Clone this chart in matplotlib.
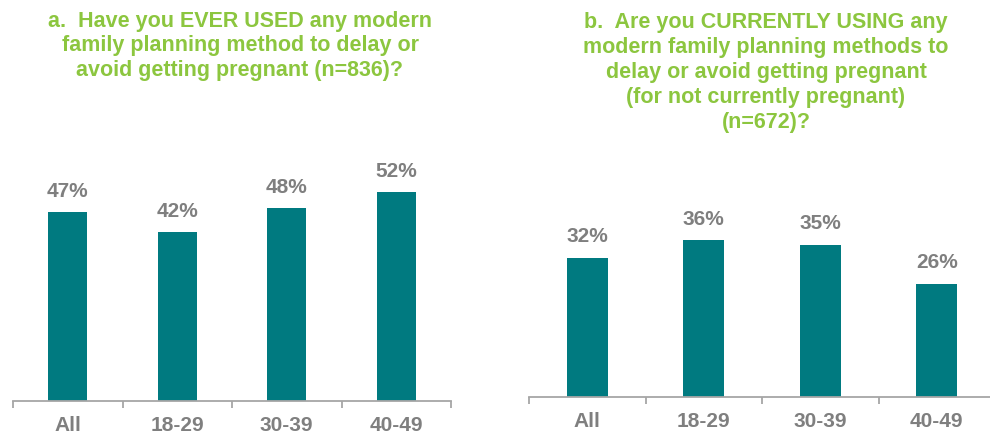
import matplotlib
matplotlib.use("Agg")
from matplotlib import pyplot as plt

plt.rcParams['font.family'] = ['Liberation Sans', 'DejaVu Sans']

categories = ["All", "18-29", "30-39", "40-49"]
ever_used = [47, 42, 48, 52]
currently_using = [32, 36, 35, 26]

title_a = "a.  Have you EVER USED any modern\nfamily planning method to delay or\navoid getting pregnant (n=836)?"
title_b = ("b.  Are you CURRENTLY USING any\nmodern family planning methods to\n"
           "delay or avoid getting pregnant\n(for not currently pregnant)\n(n=672)?")

BAR = "#007A80"
LABEL = "#7F7F7F"
GREEN = "#8CC63F"
AXIS = "#A6A6A6"


def plot_panel(ax, values, width, ymax):
    x = range(len(values))
    bars = ax.bar(x, values, width=width, color=BAR)
    for b, v in zip(bars, values):
        ax.annotate("{}%".format(v), (b.get_x() + b.get_width() / 2, v),
                    xytext=(0, 9), textcoords="offset points",
                    ha="center", va="bottom", fontsize=15, fontweight="bold", color=LABEL)
    ax.set_xlim(-0.5, len(values) - 0.5)
    ax.set_ylim(0, ymax)
    ax.set_xticks(list(x))
    ax.set_xticklabels(categories, fontsize=15, fontweight="bold", color=LABEL)
    ax.set_xticks([i - 0.5 for i in range(len(values) + 1)], minor=True)
    ax.tick_params(axis="x", which="major", length=0, pad=10)
    ax.tick_params(axis="x", which="minor", length=5, width=1.3, color=AXIS, direction="out")
    ax.set_yticks([])
    for s in ["top", "right", "left"]:
        ax.spines[s].set_visible(False)
    ax.spines["bottom"].set_color(AXIS)
    ax.spines["bottom"].set_linewidth(1.3)


fig = plt.figure(figsize=(9.9, 4.35), dpi=100)
W, H = 990.0, 435.0

# left panel: baseline y=402px, 60% -> 241px
ax1 = fig.add_axes([13 / W, (H - 402) / H, 438 / W, 241 / H])
plot_panel(ax1, ever_used, 0.36, 60)

# right panel: baseline y=398px, 45% -> 196px
ax2 = fig.add_axes([529 / W, (H - 398) / H, 466 / W, 196 / H])
plot_panel(ax2, currently_using, 0.35, 45)

fig.text(240 / W, 1 - 11 / H, title_a, ha="center", va="top", fontsize=15.5,
         fontweight="bold", color=GREEN, linespacing=1.21)
fig.text(766 / W, 1 - 12 / H, title_b, ha="center", va="top", fontsize=15.5,
         fontweight="bold", color=GREEN, linespacing=1.25)

plt.savefig("out.png", dpi=100)
